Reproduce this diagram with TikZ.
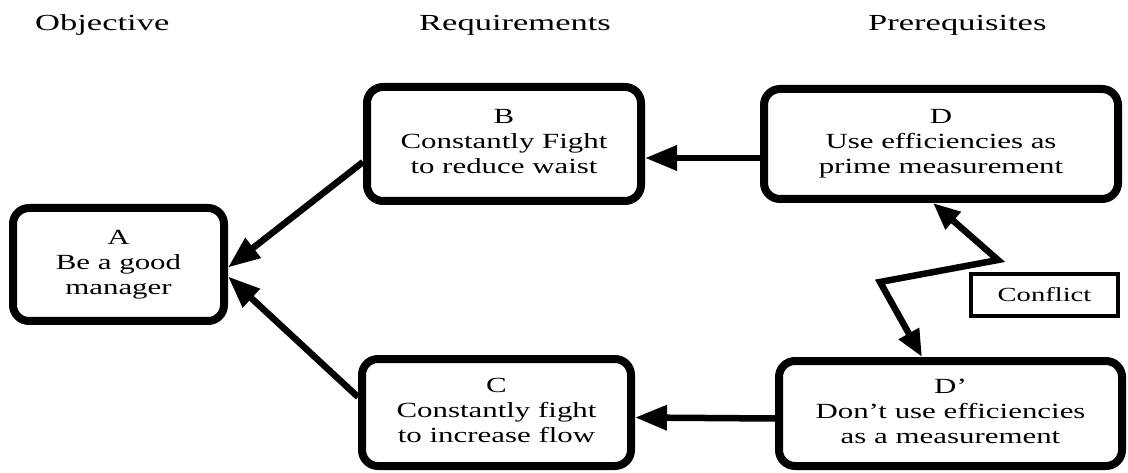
\documentclass[tikz,border=0pt]{standalone}
\usepackage{fontspec}
\setmainfont{Liberation Serif}[FakeStretch=1.43]
\newfontfamily\headfont{Liberation Serif}[FakeStretch=1.5]
\usetikzlibrary{arrows.meta}

\begin{document}
\begin{tikzpicture}[x=1pt,y=-1pt,
  box/.style={draw, line width=8pt, rounded corners=16pt, align=center,
    inner sep=0pt, font=\fontsize{21.6}{25}\selectfont},
  tag/.style={draw, line width=3.5pt, inner sep=0pt,
    font=\fontsize{20}{24}\selectfont},
  head/.style={anchor=base west, inner sep=0pt,
    font=\headfont\fontsize{23}{27}\selectfont},
  arr/.style={line width=6.5pt, -{Triangle[length=32pt,width=24pt]}},
  clash/.style={line width=6.5pt, miter limit=20,
    {Triangle[length=27pt,width=22pt]}-{Triangle[length=27pt,width=22pt]}}
]
\useasboundingbox (0,0) rectangle (1128,473);
\fill[white] (0,0) rectangle (1128,473);

% column headings
\node[head] (hObj) at (35,31) {Objective};
\node[head] (hReq) at (419,31) {Requirements};
\node[head] (hPre) at (868,31) {Prerequisites};

% entities of the conflict cloud
\node[box, minimum width=211pt, minimum height=113pt] (A) at (118.5,264.5)
  {\strut A\\\strut Be a good\\\strut manager};
\node[box, minimum width=274pt, minimum height=114pt] (B) at (504,144)
  {\strut B\\\strut Constantly Fight\\\strut to reduce waist};
\node[box, minimum width=269pt, minimum height=107pt] (C) at (496.5,412.5)
  {\strut C\\\strut Constantly fight\\\strut to increase flow};
\node[box, minimum width=354pt, minimum height=110pt] (D) at (941,144)
  {\strut D\\\strut Use efficiencies as\\\strut prime measurement};
\node[box, minimum width=343pt, minimum height=105pt] (Dp) at (950.5,413.5)
  {\strut D'\\\strut Don't use efficiencies\\\strut as a measurement};
\node[tag, minimum width=147pt, minimum height=42pt] (K) at (1044.5,295)
  {Conflict};

% necessity arrows
\draw[arr] ([yshift=-14pt]D.west) -- ([yshift=-14pt]B.east);
\draw[arr] ([yshift=-5pt]Dp.west) -- ([yshift=-5pt]C.east);
\draw[arr] ([yshift=-18pt]B.west) -- ([yshift=-3pt]A.east);
\draw[arr] ([yshift=15.5pt]C.west) -- ([yshift=-12pt]A.east);

% zig-zag conflict arrow between D and D'
\coordinate (z1) at (880,282);
\coordinate (z2) at (998,260);
\draw[clash] ([xshift=-8pt]D.south) -- (z2) -- (z1) -- ([xshift=-28.5pt]Dp.north);
\end{tikzpicture}
\end{document}
